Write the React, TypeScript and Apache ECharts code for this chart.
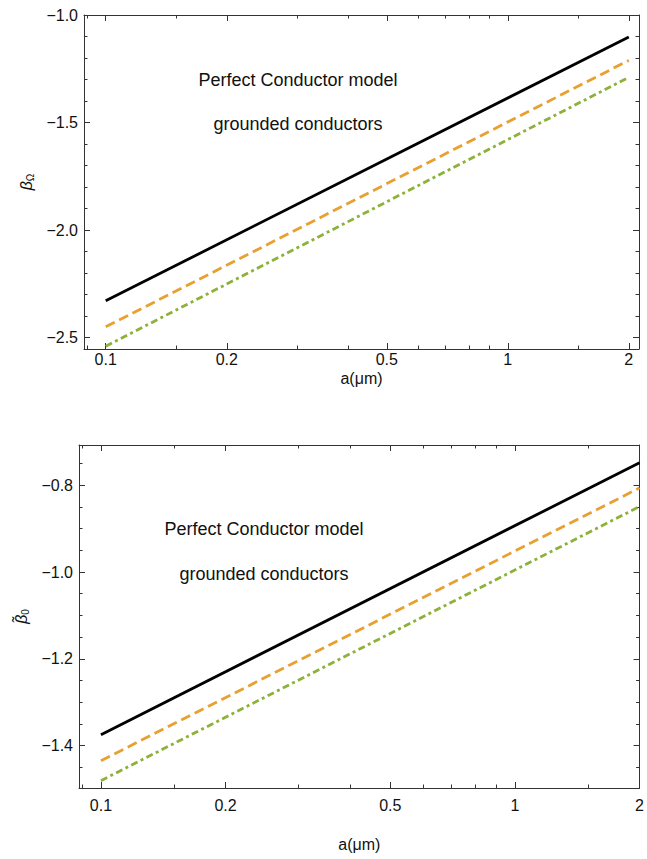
import React, { useEffect, useRef } from "react";
import * as echarts from "echarts";

const X_MAJOR = [0.1, 0.2, 0.5, 1, 2];
const X_MINOR = [0.09, 0.15, 0.3, 0.4, 0.6, 0.7, 0.8, 0.9, 1.5];

const TOP_Y_MAJOR = [-2.5, -2.0, -1.5, -1.0];
const TOP_Y_MINOR = [-2.4, -2.3, -2.2, -2.1, -1.9, -1.8, -1.7, -1.6, -1.4, -1.3, -1.2, -1.1];
const BOT_Y_MAJOR = [-1.4, -1.2, -1.0, -0.8];
const BOT_Y_MINOR = [-1.45, -1.35, -1.3, -1.25, -1.15, -1.1, -1.05, -0.95, -0.9, -0.85, -0.75];

// a (μm) endpoints
const A_VALUES = [0.1, 2];
const TOP_PERFECT = [-2.329, -1.102];
const TOP_MODEL_B = [-2.45, -1.211];
const TOP_MODEL_C = [-2.54, -1.29];
const BOT_PERFECT = [-1.375, -0.748];
const BOT_MODEL_B = [-1.435, -0.806];
const BOT_MODEL_C = [-1.481, -0.849];

const FRAME = "#333333";
const FONT = "Liberation Sans, Arial, sans-serif";

const fmtX = (v: number) => String(parseFloat(Number(v).toPrecision(3)));
const fmtY = (v: number) => (v < 0 ? "\u2212" : "") + Math.abs(v).toFixed(1);

function xAxes(grid: number, min: number, max: number, labelMargin: number, nameGap: number) {
  const base = { type: "log", logBase: 10, gridIndex: grid, min, max, splitLine: { show: false } };
  return [
    {
      ...base, position: "bottom",
      axisLine: { show: true, lineStyle: { color: FRAME, width: 1 } },
      axisTick: { show: true, inside: true, length: 6, customValues: X_MAJOR, lineStyle: { color: FRAME } },
      axisLabel: { show: true, customValues: X_MAJOR, formatter: fmtX, color: "#111", fontSize: 16, fontFamily: FONT, margin: labelMargin },
      name: "a(\u03bcm)", nameLocation: "middle", nameGap,
      nameTextStyle: { color: "#111", fontSize: 16, fontFamily: FONT },
    },
    {
      ...base, position: "bottom",
      axisLine: { show: false },
      axisTick: { show: true, inside: true, length: 3.5, customValues: X_MINOR, lineStyle: { color: FRAME } },
      axisLabel: { show: false },
    },
    {
      ...base, position: "top",
      axisLine: { show: true, lineStyle: { color: FRAME, width: 1 } },
      axisTick: { show: true, inside: true, length: 6, customValues: X_MAJOR, lineStyle: { color: FRAME } },
      axisLabel: { show: false },
    },
    {
      ...base, position: "top",
      axisLine: { show: false },
      axisTick: { show: true, inside: true, length: 3.5, customValues: X_MINOR, lineStyle: { color: FRAME } },
      axisLabel: { show: false },
    },
  ];
}

function yAxes(grid: number, min: number, max: number, major: number[], minor: number[], nameRich: string) {
  const base = { type: "value", gridIndex: grid, min, max, splitLine: { show: false }, scale: true };
  return [
    {
      ...base, position: "left",
      axisLine: { show: true, lineStyle: { color: FRAME, width: 1 } },
      axisTick: { show: true, inside: true, length: 6, customValues: major, lineStyle: { color: FRAME } },
      axisLabel: { show: true, customValues: major, formatter: fmtY, color: "#111", fontSize: 16, fontFamily: FONT, margin: 6 },
      name: nameRich, nameLocation: "middle", nameGap: 48, nameRotate: 90,
      nameTextStyle: {
        color: "#111", fontFamily: FONT,
        rich: {
          b: { fontSize: 16, fontStyle: "italic", fontFamily: FONT, color: "#111" },
          s: { fontSize: 10, fontFamily: FONT, color: "#111", padding: [8, 0, 0, 0] },
        },
      },
    },
    {
      ...base, position: "left",
      axisLine: { show: false },
      axisTick: { show: true, inside: true, length: 3.5, customValues: minor, lineStyle: { color: FRAME } },
      axisLabel: { show: false },
    },
    {
      ...base, position: "right",
      axisLine: { show: true, lineStyle: { color: FRAME, width: 1 } },
      axisTick: { show: true, inside: true, length: 6, customValues: major, lineStyle: { color: FRAME } },
      axisLabel: { show: false },
    },
    {
      ...base, position: "right",
      axisLine: { show: false },
      axisTick: { show: true, inside: true, length: 3.5, customValues: minor, lineStyle: { color: FRAME } },
      axisLabel: { show: false },
    },
  ];
}

function series(xi: number, yi: number, ys: number[], color: string, type: any, width: number) {
  return {
    type: "line", xAxisIndex: xi, yAxisIndex: yi, symbol: "none", silent: true,
    data: A_VALUES.map((a, i) => [a, ys[i]]),
    lineStyle: { color, width, type, cap: "butt" },
  };
}

export default function App() {
  const ref = useRef<HTMLDivElement>(null);
  useEffect(() => {
    document.body.style.margin = "0";
    const chart = echarts.init(ref.current!, undefined, { renderer: "svg" });
    const ORANGE = "#E8A030";
    const GREEN = "#8DB13A";
    const DASH = [10, 5];
    const DASHDOT = [7, 3.5, 3, 3.5];
    const txt = (x: number, y: number, text: string) => ({
      type: "text", x, y,
      style: { text, fontSize: 18, fontFamily: FONT, fill: "#111", align: "center", verticalAlign: "middle" },
    });
    chart.setOption({
      animation: false,
      backgroundColor: "#ffffff",
      grid: [
        { left: 84, top: 15, width: 555, height: 334 },
        { left: 79, top: 445, width: 562, height: 343 },
      ],
      xAxis: [...xAxes(0, 0.0883, 2.12, 2, 21), ...xAxes(1, 0.0885, 2.0, 9, 48)],
      yAxis: [
        ...yAxes(0, -2.553, -1.0, TOP_Y_MAJOR, TOP_Y_MINOR, "{b|\u03b2}{s|\u03a9}"),
        ...yAxes(1, -1.498, -0.707, BOT_Y_MAJOR, BOT_Y_MINOR, "{b|\u03b2\u0303}{s|0}"),
      ],
      series: [
        series(0, 0, TOP_PERFECT, "#000000", "solid", 2.8),
        series(0, 0, TOP_MODEL_B, ORANGE, DASH, 2.8),
        series(0, 0, TOP_MODEL_C, GREEN, DASHDOT, 2.8),
        series(4, 4, BOT_PERFECT, "#000000", "solid", 2.8),
        series(4, 4, BOT_MODEL_B, ORANGE, DASH, 2.8),
        series(4, 4, BOT_MODEL_C, GREEN, DASHDOT, 2.8),
      ],
      graphic: [
        txt(298, 80, "Perfect Conductor model"),
        txt(298, 124, "grounded conductors"),
        txt(264, 529, "Perfect Conductor model"),
        txt(264, 574, "grounded conductors"),
      ],
    });
    return () => chart.dispose();
  }, []);
  return <div ref={ref} style={{ width: 647, height: 859 }} />;
}
